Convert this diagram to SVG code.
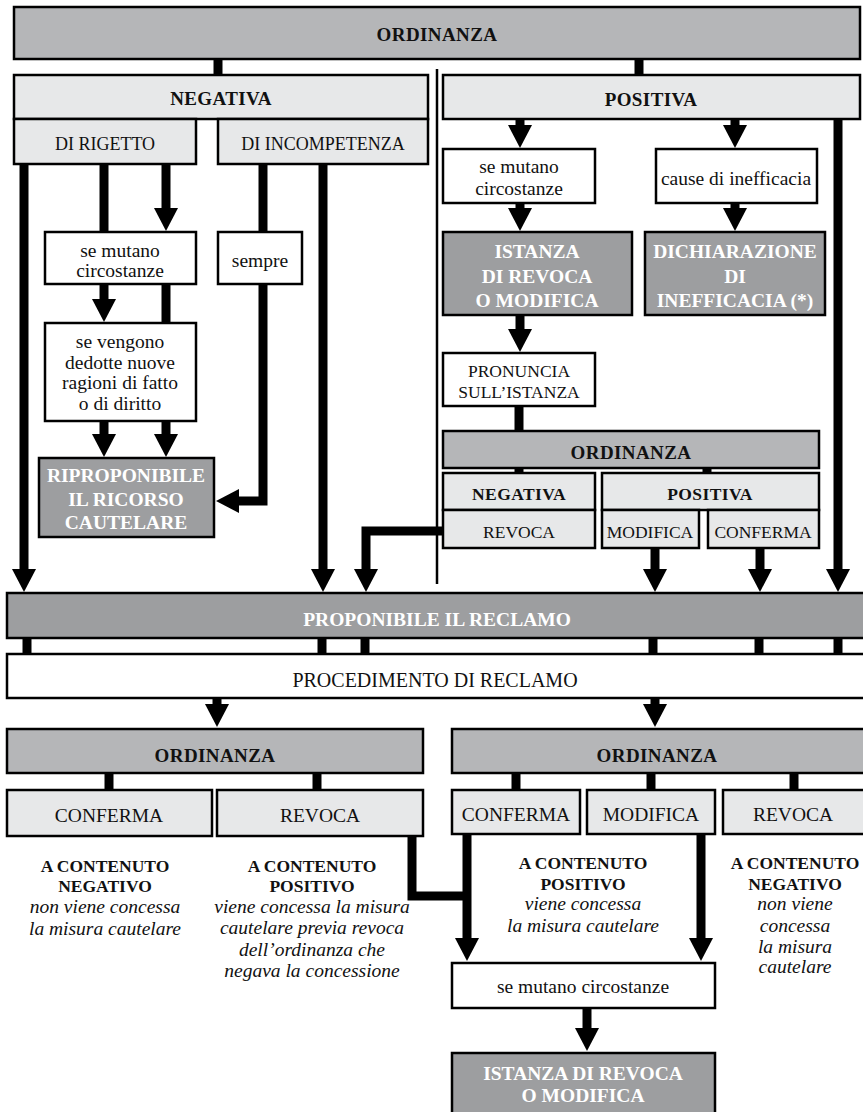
<svg xmlns="http://www.w3.org/2000/svg" width="863" height="1112" viewBox="0 0 863 1112">
<defs>
<marker id="ah" viewBox="0 -12 23 24" refX="1" refY="0" markerWidth="23" markerHeight="24" markerUnits="userSpaceOnUse" orient="auto">
<path d="M0,-12 L23,0 L0,12 z" fill="#000"/>
</marker>
<style>
.b{stroke:#000;stroke-width:2.5}
.med{fill:#b5b6b8}
.lt{fill:#e7e8e9}
.dk{fill:#9d9ea0}
.wh{fill:#fff}
text{font-family:"Liberation Serif","Times New Roman",serif;text-anchor:middle;fill:#111}
.hd{font-weight:bold;font-size:19px;letter-spacing:0.4px}
.wb{font-weight:bold;font-size:19.5px;fill:#fff}
.cp{font-size:18px}
.cp2{font-size:17.5px}
.cp3{font-size:19.5px}
.lc{font-size:19.5px}
.ac{font-weight:bold;font-size:17.5px}
.it{font-style:italic;font-size:19.5px}
.c{stroke:#000;stroke-width:9;fill:none;stroke-linejoin:miter}
.a{marker-end:url(#ah)}
</style>
</defs>
<rect width="863" height="1112" fill="#fff"/>

<g id="connectors">
<line x1="437" y1="69" x2="437" y2="584" stroke="#000" stroke-width="2.5"/>
<path class="c" d="M218,59V75"/>
<path class="c" d="M639,59V75"/>
<path class="c a" d="M24,164V570"/>
<path class="c" d="M104,164V232"/>
<path class="c a" d="M166,164V209"/>
<path class="c" d="M263,164V232"/>
<path class="c a" d="M323,164V570"/>
<path class="c a" d="M104,284V300"/>
<path class="c" d="M166,284V323"/>
<path class="c a" d="M104,421V435"/>
<path class="c a" d="M166,421V435"/>
<path class="c a" d="M263,284V501H238"/>
<path class="c a" d="M520,119V126"/>
<path class="c a" d="M735,119V126"/>
<path class="c a" d="M838,119V570"/>
<path class="c a" d="M520,203V209"/>
<path class="c a" d="M735,203V209"/>
<path class="c a" d="M520,315V330"/>
<path class="c" d="M519,406V431"/>
<path class="c" d="M519,468V473"/>
<path class="c" d="M707,468V473"/>
<path class="c a" d="M443,531H366V570"/>
<path class="c a" d="M655,548V570"/>
<path class="c a" d="M760,548V570"/>
<path class="c" d="M27,638V654"/>
<path class="c" d="M322,638V654"/>
<path class="c" d="M365,638V654"/>
<path class="c" d="M653,638V654"/>
<path class="c" d="M759,638V654"/>
<path class="c" d="M838,638V654"/>
<path class="c a" d="M217,698V705"/>
<path class="c a" d="M655,698V705"/>
<path class="c" d="M109,773V790"/>
<path class="c" d="M317,773V790"/>
<path class="c" d="M516,773V790"/>
<path class="c" d="M651,773V790"/>
<path class="c" d="M794,773V790"/>
<path class="c" d="M412,836V896H467"/>
<path class="c a" d="M467,834V939"/>
<path class="c a" d="M701,834V939"/>
<path class="c a" d="M587,1008V1029"/>
</g>

<g id="ordinanza-top"><rect class="b med" x="14" y="7" width="846" height="52"/><text class="hd" x="437" y="41">ORDINANZA</text></g>
<g id="negativa"><rect class="b lt" x="14" y="75" width="414" height="44"/><text class="hd" x="221" y="105">NEGATIVA</text></g>
<g id="di-rigetto"><rect class="b lt" x="14" y="119" width="182" height="45"/><text class="cp" x="105" y="150">DI RIGETTO</text></g>
<g id="di-incompetenza"><rect class="b lt" x="218" y="119" width="210" height="45"/><text class="cp" x="323" y="150">DI INCOMPETENZA</text></g>
<g id="positiva"><rect class="b lt" x="443" y="75" width="417" height="44"/><text class="hd" x="651" y="106">POSITIVA</text></g>
<g id="se-mutano-pos"><rect class="b wh" x="443" y="149" width="152" height="54"/><text class="lc" x="519" y="173">se mutano</text><text class="lc" x="519" y="195">circostanze</text></g>
<g id="cause"><rect class="b wh" x="656" y="149" width="161" height="54"/><text class="lc" x="736" y="185">cause di inefficacia</text></g>
<g id="istanza"><rect class="b dk" x="443" y="232" width="189" height="83"/><text class="wb" x="537" y="258">ISTANZA</text><text class="wb" x="537" y="283">DI REVOCA</text><text class="wb" x="537" y="307">O MODIFICA</text></g>
<g id="dichiarazione"><rect class="b dk" x="645" y="232" width="180" height="83"/><text class="wb" x="735" y="258">DICHIARAZIONE</text><text class="wb" x="735" y="283">DI</text><text class="wb" x="735" y="307">INEFFICACIA (*)</text></g>
<g id="pronuncia"><rect class="b wh" x="443" y="353" width="152" height="53"/><text class="cp2" x="519" y="377">PRONUNCIA</text><text class="cp2" x="519" y="398">SULL’ISTANZA</text></g>
<g id="ordinanza-2"><rect class="b med" x="443" y="431" width="376" height="37"/><text class="hd" x="631" y="459">ORDINANZA</text></g>
<g id="negativa-2"><rect class="b lt" x="443" y="473" width="152" height="37"/><text class="hd" x="519" y="500" style="font-size:17.5px">NEGATIVA</text></g>
<g id="revoca-2"><rect class="b lt" x="443" y="510" width="152" height="38"/><text class="cp2" x="519" y="538">REVOCA</text></g>
<g id="positiva-2"><rect class="b lt" x="602" y="473" width="217" height="37"/><text class="hd" x="710" y="500" style="font-size:17.5px">POSITIVA</text></g>
<g id="modifica-2"><rect class="b lt" x="602" y="510" width="97" height="38"/><text class="cp2" x="650" y="538">MODIFICA</text></g>
<g id="conferma-2"><rect class="b lt" x="708" y="510" width="111" height="38"/><text class="cp2" x="763" y="538">CONFERMA</text></g>
<g id="se-mutano-left"><rect class="b wh" x="45" y="232" width="151" height="52"/><text class="lc" x="120" y="257">se mutano</text><text class="lc" x="120" y="277">circostanze</text></g>
<g id="sempre"><rect class="b wh" x="218" y="232" width="84" height="52"/><text class="lc" x="260" y="267">sempre</text></g>
<g id="se-vengono"><rect class="b wh" x="45" y="323" width="151" height="98"/><text class="lc" x="120" y="348">se vengono</text><text class="lc" x="120" y="369">dedotte nuove</text><text class="lc" x="120" y="389">ragioni di fatto</text><text class="lc" x="120" y="410">o di diritto</text></g>
<g id="riproponibile"><rect class="b dk" x="39" y="458" width="175" height="79"/><text class="wb" x="126" y="482">RIPROPONIBILE</text><text class="wb" x="126" y="506">IL RICORSO</text><text class="wb" x="126" y="529">CAUTELARE</text></g>
<g id="proponibile"><rect class="b dk" x="7" y="593" width="870" height="45"/><text class="wb" x="437" y="626">PROPONIBILE IL RECLAMO</text></g>
<g id="procedimento"><rect class="b wh" x="7" y="654" width="870" height="44"/><text style="font-size:20px" x="435" y="687">PROCEDIMENTO DI RECLAMO</text></g>
<g id="ordinanza-l"><rect class="b med" x="7" y="729" width="416" height="44"/><text class="hd" x="215" y="762">ORDINANZA</text></g>
<g id="ordinanza-r"><rect class="b med" x="452" y="729" width="420" height="44"/><text class="hd" x="657" y="762">ORDINANZA</text></g>
<g id="conferma-l"><rect class="b lt" x="7" y="790" width="205" height="46"/><text class="cp3" x="109" y="822">CONFERMA</text></g>
<g id="revoca-l"><rect class="b lt" x="217" y="790" width="206" height="46"/><text class="cp3" x="320" y="822">REVOCA</text></g>
<g id="conferma-r"><rect class="b lt" x="452" y="790" width="128" height="44"/><text class="cp3" x="516" y="821">CONFERMA</text></g>
<g id="modifica-r"><rect class="b lt" x="587" y="790" width="128" height="44"/><text class="cp3" x="651" y="821">MODIFICA</text></g>
<g id="revoca-r"><rect class="b lt" x="723" y="790" width="150" height="44"/><text class="cp3" x="793" y="821">REVOCA</text></g>

<g id="esito-conferma-l"><text class="ac" x="105" y="872">A CONTENUTO</text><text class="ac" x="105" y="892">NEGATIVO</text><text class="it" x="105" y="913">non viene concessa</text><text class="it" x="105" y="935">la misura cautelare</text></g>
<g id="esito-revoca-l"><text class="ac" x="312" y="872">A CONTENUTO</text><text class="ac" x="312" y="892">POSITIVO</text><text class="it" x="312" y="913">viene concessa la misura</text><text class="it" x="312" y="934">cautelare previa revoca</text><text class="it" x="312" y="956">dell’ordinanza che</text><text class="it" x="312" y="977">negava la concessione</text></g>
<g id="esito-pos-r"><text class="ac" x="583" y="869">A CONTENUTO</text><text class="ac" x="583" y="890">POSITIVO</text><text class="it" x="583" y="910">viene concessa</text><text class="it" x="583" y="932">la misura cautelare</text></g>
<g id="esito-neg-r"><text class="ac" x="795" y="869">A CONTENUTO</text><text class="ac" x="795" y="890">NEGATIVO</text><text class="it" x="795" y="910">non viene</text><text class="it" x="795" y="932">concessa</text><text class="it" x="795" y="953">la misura</text><text class="it" x="795" y="973">cautelare</text></g>

<g id="se-mutano-bottom"><rect class="b wh" x="452" y="963" width="263" height="45"/><text class="lc" x="583" y="993">se mutano circostanze</text></g>
<g id="istanza-bottom"><rect class="b dk" x="452" y="1053" width="263" height="70"/><text class="wb" x="583" y="1080">ISTANZA DI REVOCA</text><text class="wb" x="583" y="1102">O MODIFICA</text></g>
</svg>
